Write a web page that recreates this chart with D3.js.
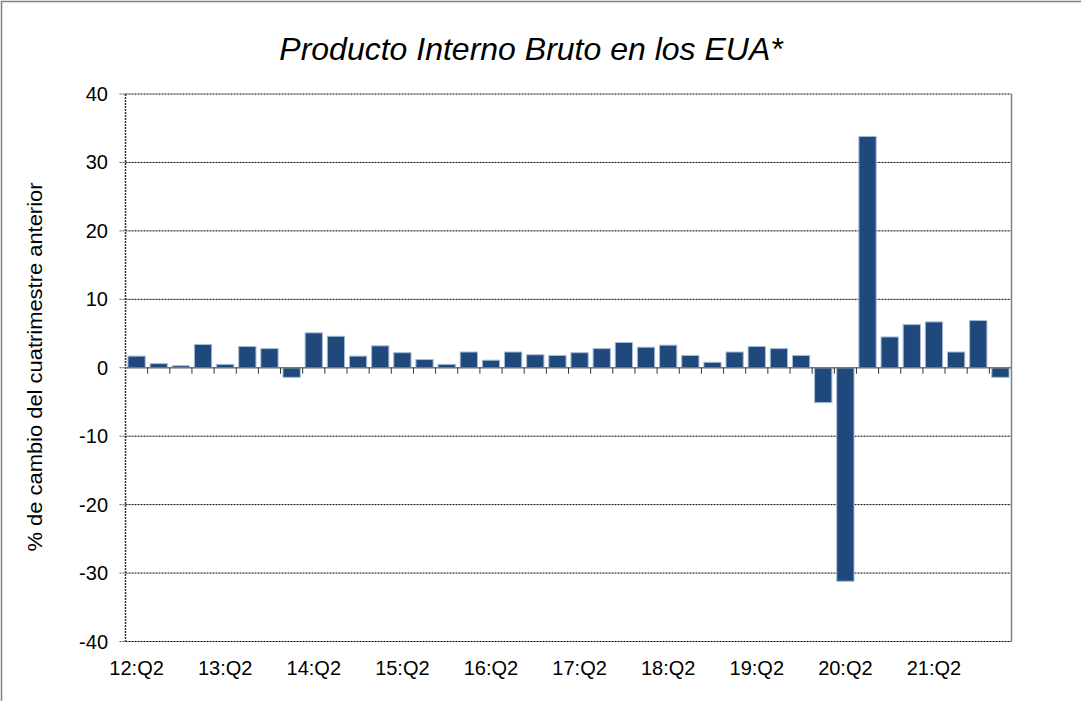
<!doctype html>
<html lang="es">
<head>
<meta charset="UTF-8">
<title>Producto Interno Bruto en los EUA</title>
<script src="https://cdn.jsdelivr.net/npm/d3@7"></script>
<style>
    body { margin: 0; background: #fff; }
    svg { display: block; font-family: "Liberation Sans", Arial, sans-serif; }
</style>
</head>
<body>
<script>
    // data
    var years = ["12", "13", "14", "15", "16", "17", "18", "19", "20", "21", "22"];
    var quarters = [];
    (function () {
        // 12:Q2 .. 22:Q1
        for (var i = 0; i < 40; i++) {
            var q = (i + 1) % 4 + 1;
            var yr = years[Math.floor((i + 1) / 4)];
            quarters.push(yr + ":Q" + q);
        }
    })();
    var gdp = [1.7, 0.6, 0.3, 3.4, 0.5, 3.1, 2.8, -1.4, 5.1, 4.6,
               1.7, 3.2, 2.2, 1.2, 0.5, 2.3, 1.1, 2.3, 1.9, 1.8,
               2.2, 2.8, 3.7, 3.0, 3.3, 1.8, 0.8, 2.3, 3.1, 2.8,
               1.8, -5.1, -31.2, 33.8, 4.5, 6.3, 6.7, 2.3, 6.9, -1.4];
    var yTicks = [40, 30, 20, 10, 0, -10, -20, -30, -40];

    var w = 1081, h = 701;
    var pLeft = 125.5, pRight = 1011.5, pTop = 94, pBottom = 641.5;

    var svg = d3.select("body").append("svg").attr("width", w).attr("height", h);

    svg.append("rect")
        .attr("x", 1.5).attr("y", 1.5).attr("width", w + 10).attr("height", h + 10)
        .attr("fill", "none").attr("stroke", "#808080").attr("stroke-width", 1.5);

    var x = d3.scaleBand().domain(quarters).range([pLeft, pRight]).paddingInner(0.22).paddingOuter(0.11);
    var y = d3.scaleLinear().domain([-40, 40]).range([pBottom, pTop]);

    // gridlines
    svg.selectAll(".grid")
        .data(yTicks.filter(function (d) { return d !== 0; }))
        .enter()
        .append("line")
        .attr("x1", pLeft).attr("x2", pRight)
        .attr("y1", function (d) { return y(d); })
        .attr("y2", function (d) { return y(d); })
        .attr("stroke", "#000")
        .attr("stroke-width", 1)
        .attr("stroke-dasharray", "2,1");

    // y ticks & labels
    svg.selectAll(".ytick")
        .data(yTicks)
        .enter()
        .append("line")
        .attr("x1", pLeft - 6).attr("x2", pLeft)
        .attr("y1", function (d) { return y(d); })
        .attr("y2", function (d) { return y(d); })
        .attr("stroke", "#555").attr("stroke-dasharray", "2,1");

    svg.selectAll(".ylab")
        .data(yTicks)
        .enter()
        .append("text")
        .attr("x", 108)
        .attr("y", function (d) { return y(d) + 7; })
        .attr("text-anchor", "end")
        .attr("font-size", "20px")
        .attr("fill", "#000")
        .text(function (d) { return d; });

    // bars
    svg.selectAll(".bar")
        .data(gdp)
        .enter()
        .append("rect")
        .attr("x", function (d, i) { return x(quarters[i]); })
        .attr("width", x.bandwidth())
        .attr("y", function (d) { return y(Math.max(0, d)); })
        .attr("height", function (d) { return Math.abs(y(d) - y(0)); })
        .attr("fill", "#1f497d")
        .attr("stroke", "#a9bcd6")
        .attr("stroke-width", 1);

    // frame
    svg.append("line").attr("x1", pLeft).attr("x2", pLeft).attr("y1", pTop).attr("y2", pBottom)
        .attr("stroke", "#333").attr("stroke-width", 1.5).attr("stroke-dasharray", "2,1");
    svg.append("line").attr("x1", pRight).attr("x2", pRight).attr("y1", pTop).attr("y2", pBottom)
        .attr("stroke", "#808080").attr("stroke-width", 1.5);

    // zero axis with category ticks
    svg.append("line").attr("x1", pLeft).attr("x2", pRight).attr("y1", y(0)).attr("y2", y(0))
        .attr("stroke", "#777").attr("stroke-width", 1.5);
    var step = (pRight - pLeft) / quarters.length;
    svg.selectAll(".xtick")
        .data(d3.range(1, quarters.length))
        .enter()
        .append("line")
        .attr("x1", function (d) { return pLeft + d * step; })
        .attr("x2", function (d) { return pLeft + d * step; })
        .attr("y1", y(0)).attr("y2", y(0) + 6)
        .attr("stroke", "#333").attr("stroke-width", 1);

    svg.selectAll(".xlab")
        .data(quarters.filter(function (d, i) { return i % 4 === 0; }))
        .enter()
        .append("text")
        .attr("x", function (d) { return x(d) + x.bandwidth() / 2; })
        .attr("y", 675)
        .attr("text-anchor", "middle")
        .attr("font-size", "20px")
        .attr("fill", "#000")
        .text(function (d) { return d; });

    // titles
    svg.append("text")
        .attr("x", 531).attr("y", 60)
        .attr("text-anchor", "middle")
        .attr("font-size", "32px")
        .attr("font-style", "italic")
        .text("Producto Interno Bruto en los EUA*");

    svg.append("text")
        .attr("transform", "translate(42,367) rotate(-90)")
        .attr("text-anchor", "middle")
        .attr("font-size", "21px")
        .attr("textLength", 369)
        .attr("lengthAdjust", "spacingAndGlyphs")
        .text("% de cambio del cuatrimestre anterior");
</script>
</body>
</html>
